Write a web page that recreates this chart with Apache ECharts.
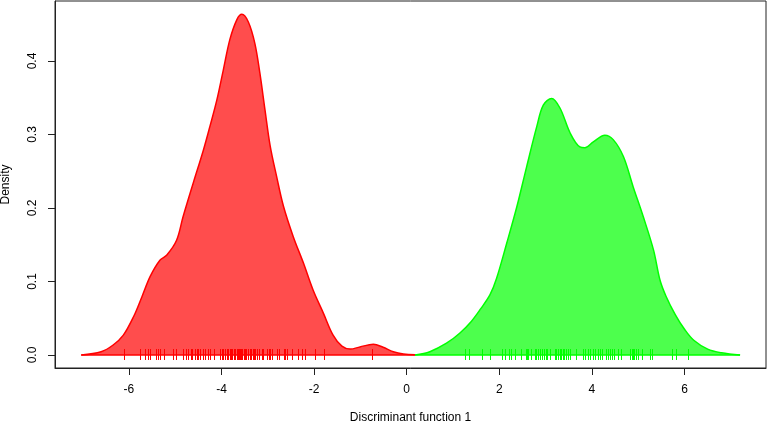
<!DOCTYPE html>
<html>
<head>
<meta charset="utf-8">
<script src="https://cdn.jsdelivr.net/npm/echarts@6/dist/echarts.min.js"></script>
<style>html,body{margin:0;padding:0;background:#fff;}#c{width:767px;height:423px;}</style>
</head>
<body>
<div id="c"></div>
<script>
// ---- data ----
const redX = [-7.03, -6.6, -6.34, -6.12, -5.90, -5.72, -5.54, -5.33, -5.18, -4.97, -4.83, -4.61, -4.39, -4.25, -4.10, -3.96, -3.82, -3.67, -3.56, -3.42, -3.28, -3.17, -3.06, -2.95, -2.81, -2.66, -2.45, -2.23, -2.02, -1.80, -1.59, -1.40, -1.22, -1.01, -0.72, -0.51, -0.29, -0.07, 0.18];
const redY = [0, 0.0045, 0.0136, 0.027, 0.052, 0.079, 0.107, 0.129, 0.136, 0.156, 0.188, 0.234, 0.279, 0.311, 0.347, 0.388, 0.429, 0.456, 0.4635, 0.453, 0.424, 0.383, 0.333, 0.285, 0.243, 0.202, 0.161, 0.125, 0.088, 0.057, 0.027, 0.012, 0.008, 0.011, 0.0145, 0.0105, 0.0045, 0.0014, 0.0002];
const greenX = [0.18, 0.50, 0.86, 1.15, 1.4, 1.6, 1.8, 1.94, 2.16, 2.38, 2.59, 2.81, 2.95, 3.13, 3.31, 3.53, 3.74, 3.85, 4.03, 4.28, 4.46, 4.68, 4.89, 5.11, 5.33, 5.47, 5.6, 5.8, 6.0, 6.2, 6.5, 6.8, 7.2];
const greenY = [0, 0.0045, 0.016, 0.03, 0.046, 0.063, 0.082, 0.104, 0.152, 0.202, 0.256, 0.311, 0.340, 0.349, 0.336, 0.302, 0.283, 0.282, 0.290, 0.299, 0.293, 0.270, 0.229, 0.188, 0.143, 0.102, 0.08, 0.055, 0.035, 0.02, 0.008, 0.003, 0];
const redRug = [-6.10, -5.745, -5.646, -5.572, -5.529, -5.408, -5.365, -5.307, -5.235, -5.032, -4.976, -4.816, -4.760, -4.708, -4.644, -4.616, -4.551, -4.529, -4.486, -4.443, -4.393, -4.356, -4.285, -4.242, -4.156, -4.011, -3.974, -3.946, -3.924, -3.903, -3.881, -3.860, -3.838, -3.816, -3.780, -3.758, -3.730, -3.708, -3.687, -3.659, -3.637, -3.616, -3.594, -3.564, -3.542, -3.514, -3.492, -3.456, -3.421, -3.384, -3.348, -3.313, -3.292, -3.255, -3.218, -3.184, -3.125, -3.089, -3.011, -2.968, -2.931, -2.894, -2.786, -2.737, -2.650, -2.607, -2.570, -2.462, -2.333, -2.255, -2.175, -1.965, -1.780, -0.743];
const greenRug = [1.266, 1.361, 1.637, 1.806, 2.073, 2.127, 2.220, 2.263, 2.339, 2.469, 2.577, 2.613, 2.641, 2.685, 2.771, 2.808, 2.842, 2.886, 2.929, 2.972, 3.009, 3.045, 3.095, 3.203, 3.246, 3.283, 3.318, 3.343, 3.376, 3.408, 3.456, 3.490, 3.527, 3.672, 3.814, 3.857, 3.916, 3.959, 4.045, 4.082, 4.138, 4.190, 4.225, 4.320, 4.354, 4.406, 4.449, 4.484, 4.570, 4.644, 4.844, 4.866, 4.894, 4.924, 4.953, 5.002, 5.097, 5.276, 5.313, 5.737, 5.832, 6.091];
const xTicks = [-6, -4, -2, 0, 2, 4, 6];
const yTicks = [0, 0.1, 0.2, 0.3, 0.4];
const xTitle = 'Discriminant function 1';
const yTitle = 'Density';

const FONT = '"Liberation Sans", Arial, Helvetica, sans-serif';
const zip = (a, b) => a.map((v, i) => [v, b[i]]);
const rug = a => a.map(v => [v, 0]);

function rugSeries(values, color) {
  return {
    type: 'custom', data: rug(values), z: 5, silent: true,
    renderItem: function (params, api) {
      const p = api.coord([api.value(0), api.value(1)]);
      const x = Math.floor(p[0]);
      return {type: 'rect', shape: {x: x, y: Math.round(p[1]) - 6, width: 1, height: 11},
              style: {fill: color}};
    }
  };
}

const chart = echarts.init(document.getElementById('c'), null, {renderer: 'canvas'});
chart.setOption({
  animation: false,
  backgroundColor: '#fff',
  grid: {left: 55, right: 1, top: 1, bottom: 55, containLabel: false, outerBoundsMode: 'none',
         show: true, borderColor: '#222', borderWidth: 1, backgroundColor: 'transparent'},
  xAxis: {
    type: 'value', min: -7.596, max: 7.76,
    name: xTitle, nameLocation: 'middle', nameGap: 44,
    nameTextStyle: {fontFamily: FONT, fontSize: 12, color: '#000'},
    axisLine: {show: true, onZero: false, lineStyle: {color: '#222', width: 1}},
    axisTick: {show: true, length: 7, customValues: xTicks, lineStyle: {color: '#222'}},
    axisLabel: {show: true, margin: 16, customValues: xTicks, fontFamily: FONT, fontSize: 12, color: '#000', formatter: v => String(v)},
    splitLine: {show: false}
  },
  yAxis: {
    type: 'value', min: -0.0177, max: 0.4816,
    name: yTitle, nameLocation: 'middle', nameGap: 43, nameRotate: 90,
    nameTextStyle: {fontFamily: FONT, fontSize: 12, color: '#000'},
    axisLine: {show: true, onZero: false, lineStyle: {color: '#222', width: 1}},
    axisTick: {show: true, length: 7, customValues: yTicks, lineStyle: {color: '#222'}},
    axisLabel: {show: true, margin: 16, rotate: 90, customValues: yTicks, fontFamily: FONT, fontSize: 12, color: '#000', formatter: v => v.toFixed(1)},
    splitLine: {show: false}
  },
  series: [
    {type: 'line', data: zip(redX, redY), smooth: 0.35, showSymbol: false, symbol: 'none',
     lineStyle: {color: '#ff0000', width: 1.5}, areaStyle: {color: '#ff4d4d', opacity: 1, origin: 0}, z: 2},
    {type: 'line', data: [[redX[0], 0], [redX[redX.length - 1], 0]], symbol: 'none', lineStyle: {color: '#ff0000', width: 1.5}, z: 2},
    {type: 'line', data: zip(greenX, greenY), smooth: 0.35, showSymbol: false, symbol: 'none',
     lineStyle: {color: '#00ff00', width: 1.5}, areaStyle: {color: '#4dff4d', opacity: 1, origin: 0}, z: 3},
    {type: 'line', data: [[greenX[0], 0], [greenX[greenX.length - 1], 0]], symbol: 'none', lineStyle: {color: '#00ff00', width: 1.5}, z: 3},
    rugSeries(redRug, '#ff0000'),
    rugSeries(greenRug, '#00ff00')
  ]
});
</script>
</body>
</html>
